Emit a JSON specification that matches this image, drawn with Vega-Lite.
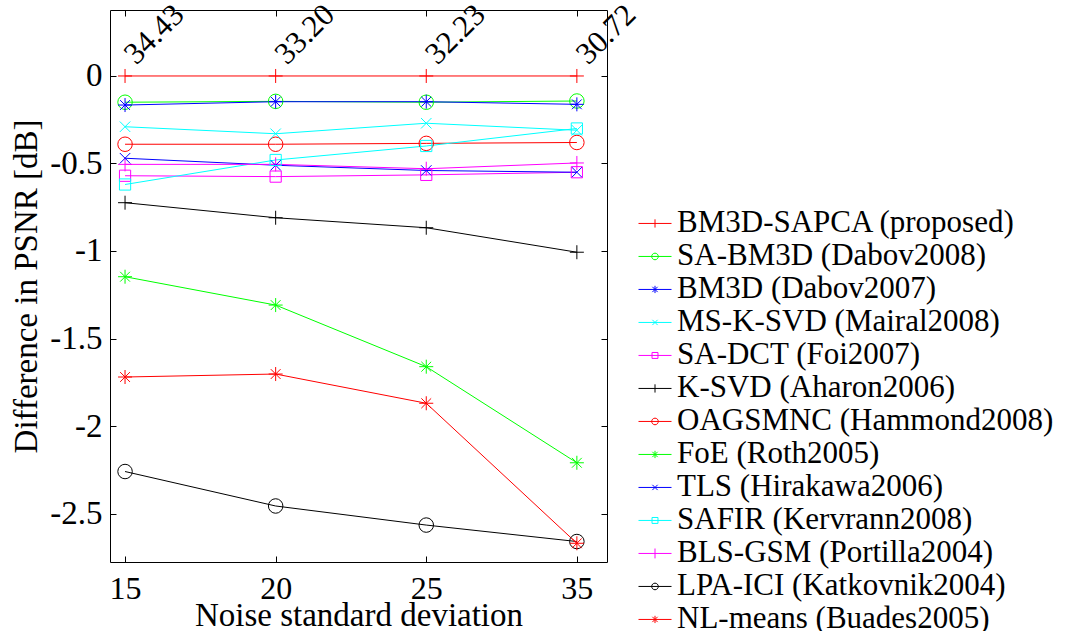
{
  "$schema": "https://vega.github.io/schema/vega-lite/v6.json",
  "width": 497,
  "height": 552,
  "autosize": {"type": "none"},
  "padding": {"left": 110, "top": 10, "right": 458, "bottom": 69},
  "background": "white",
  "config": {
    "view": {"stroke": "#000000", "strokeWidth": 1},
    "font": "Liberation Serif, Times New Roman, Tinos, DejaVu Serif, serif",
    "axis": {
      "labelFont": "Liberation Serif, Times New Roman, Tinos, DejaVu Serif, serif",
      "labelColor": "#000000",
      "titleFont": "Liberation Serif, Times New Roman, Tinos, DejaVu Serif, serif",
      "titleColor": "#000000",
      "titleFontWeight": "normal",
      "tickColor": "#000000",
      "tickWidth": 1,
      "domain": false,
      "grid": false
    },
    "legend": {
      "labelFont": "Liberation Serif, Times New Roman, Tinos, DejaVu Serif, serif"
    }
  },
  "datasets": {
    "psnr": [
      {"method": "BM3D-SAPCA (proposed)", "sigma": 15, "diff": 0},
      {"method": "BM3D-SAPCA (proposed)", "sigma": 20, "diff": 0},
      {"method": "BM3D-SAPCA (proposed)", "sigma": 25, "diff": 0},
      {"method": "BM3D-SAPCA (proposed)", "sigma": 35, "diff": 0},
      {"method": "SA-BM3D (Dabov2008)", "sigma": 15, "diff": -0.15},
      {"method": "SA-BM3D (Dabov2008)", "sigma": 20, "diff": -0.145},
      {"method": "SA-BM3D (Dabov2008)", "sigma": 25, "diff": -0.15},
      {"method": "SA-BM3D (Dabov2008)", "sigma": 35, "diff": -0.143},
      {"method": "BM3D (Dabov2007)", "sigma": 15, "diff": -0.166},
      {"method": "BM3D (Dabov2007)", "sigma": 20, "diff": -0.147},
      {"method": "BM3D (Dabov2007)", "sigma": 25, "diff": -0.147},
      {"method": "BM3D (Dabov2007)", "sigma": 35, "diff": -0.162},
      {"method": "MS-K-SVD (Mairal2008)", "sigma": 15, "diff": -0.29},
      {"method": "MS-K-SVD (Mairal2008)", "sigma": 20, "diff": -0.33},
      {"method": "MS-K-SVD (Mairal2008)", "sigma": 25, "diff": -0.27},
      {"method": "MS-K-SVD (Mairal2008)", "sigma": 35, "diff": -0.31},
      {"method": "SA-DCT (Foi2007)", "sigma": 15, "diff": -0.57},
      {"method": "SA-DCT (Foi2007)", "sigma": 20, "diff": -0.575},
      {"method": "SA-DCT (Foi2007)", "sigma": 25, "diff": -0.565},
      {"method": "SA-DCT (Foi2007)", "sigma": 35, "diff": -0.55},
      {"method": "K-SVD (Aharon2006)", "sigma": 15, "diff": -0.724},
      {"method": "K-SVD (Aharon2006)", "sigma": 20, "diff": -0.81},
      {"method": "K-SVD (Aharon2006)", "sigma": 25, "diff": -0.867},
      {"method": "K-SVD (Aharon2006)", "sigma": 35, "diff": -1.007},
      {"method": "OAGSMNC (Hammond2008)", "sigma": 15, "diff": -0.39},
      {"method": "OAGSMNC (Hammond2008)", "sigma": 20, "diff": -0.39},
      {"method": "OAGSMNC (Hammond2008)", "sigma": 25, "diff": -0.385},
      {"method": "OAGSMNC (Hammond2008)", "sigma": 35, "diff": -0.38},
      {"method": "FoE (Roth2005)", "sigma": 15, "diff": -1.147},
      {"method": "FoE (Roth2005)", "sigma": 20, "diff": -1.309},
      {"method": "FoE (Roth2005)", "sigma": 25, "diff": -1.661},
      {"method": "FoE (Roth2005)", "sigma": 35, "diff": -2.21},
      {"method": "TLS (Hirakawa2006)", "sigma": 15, "diff": -0.47},
      {"method": "TLS (Hirakawa2006)", "sigma": 20, "diff": -0.51},
      {"method": "TLS (Hirakawa2006)", "sigma": 25, "diff": -0.54},
      {"method": "TLS (Hirakawa2006)", "sigma": 35, "diff": -0.55},
      {"method": "SAFIR (Kervrann2008)", "sigma": 15, "diff": -0.62},
      {"method": "SAFIR (Kervrann2008)", "sigma": 20, "diff": -0.48},
      {"method": "SAFIR (Kervrann2008)", "sigma": 25, "diff": -0.40},
      {"method": "SAFIR (Kervrann2008)", "sigma": 35, "diff": -0.30},
      {"method": "BLS-GSM (Portilla2004)", "sigma": 15, "diff": -0.505},
      {"method": "BLS-GSM (Portilla2004)", "sigma": 20, "diff": -0.505},
      {"method": "BLS-GSM (Portilla2004)", "sigma": 25, "diff": -0.53},
      {"method": "BLS-GSM (Portilla2004)", "sigma": 35, "diff": -0.497},
      {"method": "LPA-ICI (Katkovnik2004)", "sigma": 15, "diff": -2.26},
      {"method": "LPA-ICI (Katkovnik2004)", "sigma": 20, "diff": -2.457},
      {"method": "LPA-ICI (Katkovnik2004)", "sigma": 25, "diff": -2.566},
      {"method": "LPA-ICI (Katkovnik2004)", "sigma": 35, "diff": -2.66},
      {"method": "NL-means (Buades2005)", "sigma": 15, "diff": -1.72},
      {"method": "NL-means (Buades2005)", "sigma": 20, "diff": -1.703},
      {"method": "NL-means (Buades2005)", "sigma": 25, "diff": -1.87},
      {"method": "NL-means (Buades2005)", "sigma": 35, "diff": -2.67}
    ],
    "labels": [
      {"sigma": 15, "psnr": "34.43"},
      {"sigma": 20, "psnr": "33.20"},
      {"sigma": 25, "psnr": "32.23"},
      {"sigma": 35, "psnr": "30.72"}
    ]
  },
  "layer": [
    {
      "data": {"name": "psnr"},
      "mark": {"type": "line", "strokeWidth": 1},
      "encoding": {
        "x": {
          "field": "sigma", "type": "ordinal",
          "scale": {"type": "point", "padding": 0.15, "align": 0.333},
          "axis": {"orient": "bottom", "title": "Noise standard deviation", "titleFontSize": 33, "labelFontSize": 32, "labelAngle": 0, "tickSize": -6, "labelPadding": 17, "titlePadding": -5}
        },
        "y": {
          "field": "diff", "type": "quantitative",
          "scale": {"domain": [-2.777, 0.377], "nice": false, "zero": false},
          "axis": {"orient": "left", "title": "Difference in PSNR [dB]", "titleFontSize": 33, "labelFontSize": 33, "tickSize": -6, "labelPadding": 14, "titlePadding": 6, "values": [0, -0.5, -1, -1.5, -2, -2.5], "labelExpr": "datum.value == 0 ? '0' : '-' + format(-datum.value, '')"}
        },
        "color": {
          "field": "method", "type": "nominal",
          "scale": {
            "domain": ["BM3D-SAPCA (proposed)", "SA-BM3D (Dabov2008)", "BM3D (Dabov2007)", "MS-K-SVD (Mairal2008)", "SA-DCT (Foi2007)", "K-SVD (Aharon2006)", "OAGSMNC (Hammond2008)", "FoE (Roth2005)", "TLS (Hirakawa2006)", "SAFIR (Kervrann2008)", "BLS-GSM (Portilla2004)", "LPA-ICI (Katkovnik2004)", "NL-means (Buades2005)"],
            "range": ["#ff0000", "#00ff00", "#0000ff", "#00ffff", "#ff00ff", "#000000", "#ff0000", "#00ff00", "#0000ff", "#00ffff", "#ff00ff", "#000000", "#ff0000"]
          }
        }
      }
    },
    {
      "data": {"name": "psnr"},
      "transform": [{"filter": {"field": "method", "oneOf": ["BM3D-SAPCA (proposed)", "K-SVD (Aharon2006)", "BLS-GSM (Portilla2004)"]}}],
      "mark": {"type": "point", "filled": false, "size": 196, "strokeWidth": 1, "opacity": 1, "shape": "M-1,0H1M0,-1V1"},
      "encoding": {
        "x": {"field": "sigma", "type": "ordinal", "axis": {"orient": "top", "labels": false, "title": null, "tickSize": -6}},
        "y": {"field": "diff", "type": "quantitative", "axis": {"orient": "right", "labels": false, "title": null, "tickSize": -6, "values": [0, -0.5, -1, -1.5, -2, -2.5]}},
        "color": {"field": "method", "type": "nominal"}
      }
    },
    {
      "data": {"name": "psnr"},
      "transform": [{"filter": {"field": "method", "oneOf": ["SA-BM3D (Dabov2008)", "OAGSMNC (Hammond2008)", "LPA-ICI (Katkovnik2004)"]}}],
      "mark": {"type": "point", "filled": false, "size": 210, "strokeWidth": 1, "opacity": 1, "shape": "circle"},
      "encoding": {
        "x": {"field": "sigma", "type": "ordinal", "axis": null},
        "y": {"field": "diff", "type": "quantitative", "axis": null},
        "color": {"field": "method", "type": "nominal"}
      }
    },
    {
      "data": {"name": "psnr"},
      "transform": [{"filter": {"field": "method", "oneOf": ["BM3D (Dabov2007)", "FoE (Roth2005)", "NL-means (Buades2005)"]}}],
      "mark": {"type": "point", "filled": false, "size": 196, "strokeWidth": 1, "opacity": 1, "shape": "M-1,0H1M0,-1V1M-0.7,-0.7L0.7,0.7M-0.7,0.7L0.7,-0.7"},
      "encoding": {
        "x": {"field": "sigma", "type": "ordinal", "axis": null},
        "y": {"field": "diff", "type": "quantitative", "axis": null},
        "color": {"field": "method", "type": "nominal"}
      }
    },
    {
      "data": {"name": "psnr"},
      "transform": [{"filter": {"field": "method", "oneOf": ["MS-K-SVD (Mairal2008)", "TLS (Hirakawa2006)"]}}],
      "mark": {"type": "point", "filled": false, "size": 196, "strokeWidth": 1, "opacity": 1, "shape": "M-0.75,-0.75L0.75,0.75M-0.75,0.75L0.75,-0.75"},
      "encoding": {
        "x": {"field": "sigma", "type": "ordinal", "axis": null},
        "y": {"field": "diff", "type": "quantitative", "axis": null},
        "color": {"field": "method", "type": "nominal"}
      }
    },
    {
      "data": {"name": "psnr"},
      "transform": [{"filter": {"field": "method", "oneOf": ["SA-DCT (Foi2007)", "SAFIR (Kervrann2008)"]}}],
      "mark": {"type": "point", "filled": false, "size": 196, "strokeWidth": 1, "opacity": 1, "shape": "M-0.8,-0.8H0.8V0.8H-0.8Z"},
      "encoding": {
        "x": {"field": "sigma", "type": "ordinal", "axis": null},
        "y": {"field": "diff", "type": "quantitative", "axis": null},
        "color": {"field": "method", "type": "nominal"}
      }
    },
    {
      "data": {"name": "psnr"},
      "mark": {"type": "point", "filled": false, "size": 1089, "strokeWidth": 1, "opacity": 0},
      "encoding": {
        "x": {"field": "sigma", "type": "ordinal", "axis": null},
        "y": {"field": "diff", "type": "quantitative", "axis": null},
        "color": {
          "field": "method", "type": "nominal",
          "legend": {
            "title": null,
            "orient": "none",
            "legendX": 528,
            "legendY": 197,
            "padding": 0,
            "symbolSize": 1089,
            "symbolStrokeWidth": 1,
            "symbolOpacity": 1,
            "labelFontSize": 31,
            "labelColor": "#000000",
            "labelLimit": 0,
            "labelOffset": 5,
            "rowPadding": 0,
            "clipHeight": 32.9
          }
        },
        "shape": {
          "field": "method", "type": "nominal",
          "scale": {
            "domain": ["BM3D-SAPCA (proposed)", "SA-BM3D (Dabov2008)", "BM3D (Dabov2007)", "MS-K-SVD (Mairal2008)", "SA-DCT (Foi2007)", "K-SVD (Aharon2006)", "OAGSMNC (Hammond2008)", "FoE (Roth2005)", "TLS (Hirakawa2006)", "SAFIR (Kervrann2008)", "BLS-GSM (Portilla2004)", "LPA-ICI (Katkovnik2004)", "NL-means (Buades2005)"],
            "range": ["M-1,0H1M0,-0.25V0.25", "M-1,0H1M0.2,0A0.2,0.2,0,1,1,-0.2,0A0.2,0.2,0,1,1,0.2,0", "M-1,0H1M0,-0.22V0.22M-0.16,-0.16L0.16,0.16M-0.16,0.16L0.16,-0.16", "M-1,0H1M-0.16,-0.16L0.16,0.16M-0.16,0.16L0.16,-0.16", "M-1,0H1M-0.18,-0.18H0.18V0.18H-0.18Z", "M-1,0H1M0,-0.25V0.25", "M-1,0H1M0.2,0A0.2,0.2,0,1,1,-0.2,0A0.2,0.2,0,1,1,0.2,0", "M-1,0H1M0,-0.22V0.22M-0.16,-0.16L0.16,0.16M-0.16,0.16L0.16,-0.16", "M-1,0H1M-0.16,-0.16L0.16,0.16M-0.16,0.16L0.16,-0.16", "M-1,0H1M-0.18,-0.18H0.18V0.18H-0.18Z", "M-1,0H1M0,-0.3V0.3", "M-1,0H1M0.2,0A0.2,0.2,0,1,1,-0.2,0A0.2,0.2,0,1,1,0.2,0", "M-1,0H1M0,-0.22V0.22M-0.16,-0.16L0.16,0.16M-0.16,0.16L0.16,-0.16"]
          },
          "legend": {
            "title": null,
            "orient": "none",
            "legendX": 528,
            "legendY": 197,
            "padding": 0,
            "symbolSize": 1089,
            "symbolStrokeWidth": 1,
            "symbolOpacity": 1,
            "labelFontSize": 31,
            "labelColor": "#000000",
            "labelLimit": 0,
            "labelOffset": 5,
            "rowPadding": 0,
            "clipHeight": 32.9
          }
        }
      }
    },
    {
      "data": {"name": "labels"},
      "mark": {"type": "text", "angle": -45, "align": "left", "baseline": "alphabetic", "font": "Liberation Serif, Times New Roman, Tinos, DejaVu Serif, serif", "fontSize": 31, "dx": 9, "dy": 7, "color": "#000000"},
      "encoding": {
        "x": {"field": "sigma", "type": "ordinal", "axis": null},
        "y": {"datum": 0.05, "type": "quantitative", "axis": null},
        "text": {"field": "psnr"}
      }
    }
  ],
  "resolve": {"axis": {"x": "independent", "y": "independent"}}
}
